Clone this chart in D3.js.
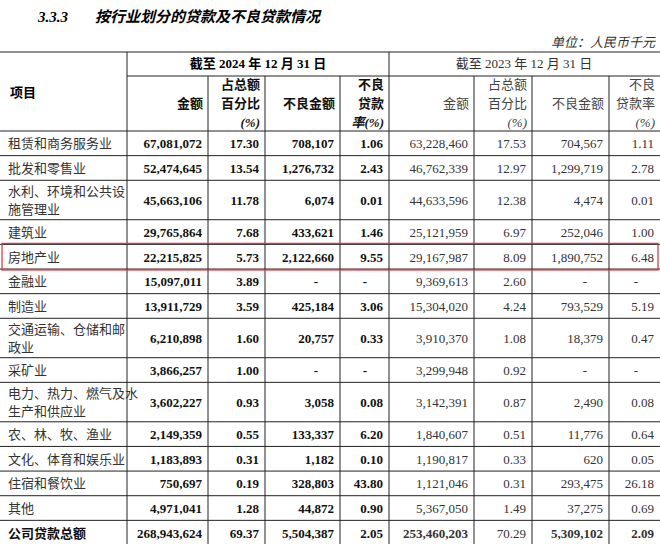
<!DOCTYPE html>
<html><head><meta charset="utf-8">
<script src="https://cdn.jsdelivr.net/npm/d3@7"></script>
<style>body{margin:0;background:#fff}</style></head>
<body><svg id="c" width="660" height="544"></svg>
<script>
const categories=["租赁和商务服务业","批发和零售业","水利、环境和公共设|施管理业","建筑业","房地产业","金融业","制造业","交通运输、仓储和邮|政业","采矿业","电力、热力、燃气及水|生产和供应业","农、林、牧、渔业","文化、体育和娱乐业","住宿和餐饮业","其他","公司贷款总额"];
const amount2024=["67,081,072","52,474,645","45,663,106","29,765,864","22,215,825","15,097,011","13,911,729","6,210,898","3,866,257","3,602,227","2,149,359","1,183,893","750,697","4,971,041","268,943,624"];
const share2024=["17.30","13.54","11.78","7.68","5.73","3.89","3.59","1.60","1.00","0.93","0.55","0.31","0.19","1.28","69.37"];
const npl2024=["708,107","1,276,732","6,074","433,621","2,122,660","-","425,184","20,757","-","3,058","133,337","1,182","328,803","44,872","5,504,387"];
const rate2024=["1.06","2.43","0.01","1.46","9.55","-","3.06","0.33","-","0.08","6.20","0.10","43.80","0.90","2.05"];
const amount2023=["63,228,460","46,762,339","44,633,596","25,121,959","29,167,987","9,369,613","15,304,020","3,910,370","3,299,948","3,142,391","1,840,607","1,190,817","1,121,046","5,367,050","253,460,203"];
const share2023=["17.53","12.97","12.38","6.97","8.09","2.60","4.24","1.08","0.92","0.87","0.51","0.33","0.31","1.49","70.29"];
const npl2023=["704,567","1,299,719","4,474","252,046","1,890,752","-","793,529","18,379","-","2,490","11,776","620","293,475","37,275","5,309,102"];
const rate2023=["1.11","2.78","0.01","1.00","6.48","-","5.19","0.47","-","0.08","0.64","0.05","26.18","0.69","2.09"];
const headers=["金额","占总额|百分比|(%)","不良金额","不良|贷款|率(%)","金额","占总额|百分比|(%)","不良金额","不良|贷款率|(%)"];

const svg=d3.select("#c");
const font="'Liberation Serif','Noto Sans CJK SC',serif";
svg.append("text").attr("x",38).attr("y",22).attr("font-family",font).attr("font-style","italic").attr("font-size",15).attr("font-weight","bold").text("3.3.3");
svg.append("text").attr("x",95).attr("y",22).attr("font-family",font).attr("font-style","italic").attr("font-weight","bold").attr("font-size",15).text("按行业划分的贷款及不良贷款情况");
svg.append("text").attr("x",655).attr("y",47).attr("text-anchor","end").attr("font-family",font).attr("font-style","italic").attr("font-size",13).attr("fill","#333").text("单位：人民币千元");

const colEdges=[0,127,208,265,340,389,474,532,609,660];
const X=i=>colEdges[i];
const units=categories.map(c=>c.includes("|")?1.6:1);
const cum=[0];units.forEach(u=>cum.push(cum[cum.length-1]+u));
const y=d3.scaleLinear().domain([0,cum[cum.length-1]]).range([131,545]);
const g=svg.append("g").attr("font-family",font).attr("font-size",13);
const line=(x1,y1,x2,y2)=>g.append("line").attr("x1",x1).attr("y1",y1).attr("x2",x2).attr("y2",y2).attr("stroke","#222").attr("stroke-width",1);
line(0,52,660,52);line(127,76,660,76);line(0,131,660,131);
cum.slice(1).forEach(u=>line(0,y(u),660,y(u)));
colEdges.slice(1,9).forEach(x=>line(x,(x===127||x===389)?52:76,x,545));
g.append("text").attr("x",258).attr("y",68).attr("text-anchor","middle").attr("font-weight","bold").text("截至 2024 年 12 月 31 日");
g.append("text").attr("x",524).attr("y",68).attr("text-anchor","middle").attr("fill","#333").text("截至 2023 年 12 月 31 日");
g.append("text").attr("x",10).attr("y",97).attr("font-weight","bold").text("项目");
headers.forEach((h,i)=>{const ls=h.split("|");const cx=X(i+2)-5;const mid=104;
 ls.forEach((l,k)=>g.append("text").attr("x",cx).attr("y",mid+(k-(ls.length-1)/2)*19+4).attr("text-anchor","end")
  .attr("font-weight",i<4?"bold":"normal").attr("fill",i<4?"#111":"#444").attr("font-style",l.includes("(%)")?"italic":"normal").text(l));});
const cols=[amount2024,share2024,npl2024,rate2024,amount2023,share2023,npl2023,rate2023];
categories.forEach((c,r)=>{const cy=(y(cum[r])+y(cum[r+1]))/2;const tot=r===categories.length-1;
 const ls=c.split("|");
 ls.forEach((l,k)=>g.append("text").attr("x",8).attr("y",cy+(k-(ls.length-1)/2)*18+5).attr("font-weight",tot?"bold":"normal").attr("fill",tot?"#111":"#333").text(l));
 cols.forEach((arr,i)=>{const v=arr[r];g.append("text").attr("x",v==="-"?X(i+2)-22:X(i+2)-6).attr("y",cy+5).attr("text-anchor","end")
  .attr("font-weight",(i<4||(tot&&i!==5))?"bold":"normal").attr("fill",i<4?"#111":"#333").text(v);});
});
const ri=categories.indexOf("房地产业");
svg.append("rect").attr("x",2).attr("y",y(cum[ri])-1).attr("width",656).attr("height",y(cum[ri+1])-y(cum[ri])+2).attr("fill","none").attr("stroke","#e0303a").attr("stroke-width",1.2);
</script></body></html>
